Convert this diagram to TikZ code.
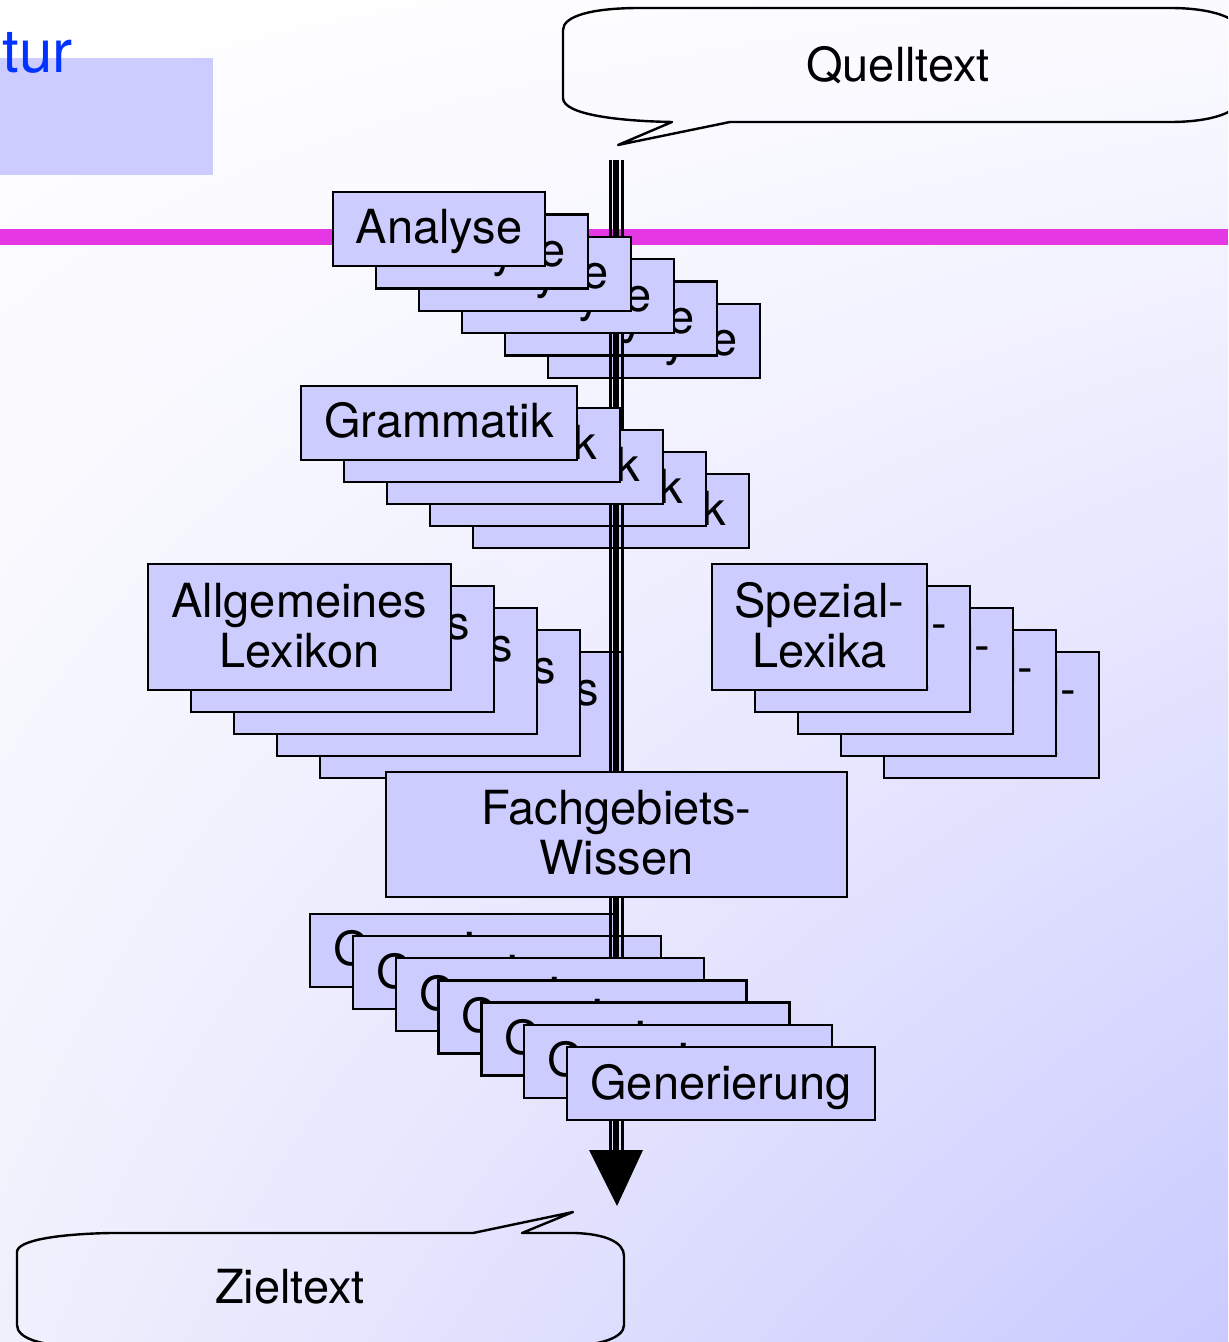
\documentclass[tikz,border=0pt]{standalone}
\usepackage{fontspec}
\setmainfont{TeX Gyre Heros}
\usetikzlibrary{shadings}
\definecolor{kartenblau}{RGB}{204,204,255}
\definecolor{trennlila}{RGB}{230,55,228}
\definecolor{titelblau}{RGB}{0,51,255}
\definecolor{grundOR}{RGB}{251,251,255}
\definecolor{grundUL}{RGB}{240,240,253}
\definecolor{grundUR}{RGB}{202,202,255}
\begin{document}
\begin{tikzpicture}[x=0.5pt,y=-0.5pt,
	karte/.style={draw=black,line width=1.2pt,fill=kartenblau,inner sep=0pt,align=center,text depth=0pt,font=\fontsize{23.5}{25}\selectfont},
	zweizeilig/.style={karte,text height=40pt},
	blase/.style={draw=black,line width=1.2pt,line join=round},
	anakarte/.style={karte,text height=15pt,minimum width=106pt,minimum height=37pt},
	gramkarte/.style={karte,text height=14pt,minimum width=138pt,minimum height=37pt},
	lexkarte/.style={zweizeilig,minimum width=151.5pt,minimum height=63pt},
	spezkarte/.style={zweizeilig,minimum width=107.5pt,minimum height=63pt},
	genkarte/.style={karte,text height=15.5pt,minimum width=154pt,minimum height=36.5pt}]
	\useasboundingbox (0,0) rectangle (1228,1342);
	\clip (0,0) rectangle (1228,1342);
	\shade[upper left=white,upper right=grundOR,lower left=grundUL,lower right=grundUR] (0,0) rectangle (1228,1342);
	% Titelrest oben links
	\fill [kartenblau] (0,58) rectangle (213,175);
	\node [anchor=base east,inner sep=0pt,text=titelblau,font=\fontsize{30}{30}\selectfont] (titel) at (73,73) {tur};
	\fill [trennlila] (0,229) rectangle (1228,245);
	% Sprechblasen
	\draw [blase] (563,30) -- (563,98) .. controls (563,114) and (615,121) .. (672,122) -- (618,145) -- (730,122) -- (1170,122) .. controls (1212,122) and (1240,112) .. (1240,98) -- (1240,32) .. controls (1240,18) and (1212,8) .. (1170,8) -- (640,8) .. controls (592,8) and (563,16) .. (563,30) -- cycle;
	\node (quelle) at (898,65) {\fontsize{23.5}{25}\selectfont Quelltext};
	\draw [blase] (17,1252) .. controls (17,1240) and (60,1234) .. (110,1233) -- (473,1233) -- (573,1212) -- (522,1233) -- (575,1233) .. controls (605,1234) and (624,1242) .. (624,1256) -- (624,1325) .. controls (624,1338) and (600,1345) .. (570,1346) -- (70,1346) .. controls (40,1345) and (17,1338) .. (17,1325) -- cycle;
	\node (ziel) at (290,1287) {\fontsize{23.5}{25}\selectfont Zieltext};
	% hintere Karten unter dem Strang
	\foreach \i in {5,4}
		\node [anakarte] (ana\i) at (439+43*\i,229+22.4*\i) {Analyse};
	\foreach \i in {4,3}
		\node [gramkarte] (gram\i) at (439+43*\i,423+22*\i) {Grammatik};
	\node [lexkarte] (lex4) at (299.5+43*4,627+22*4) {Allgemeines\\Lexikon};
	\foreach \i in {6,5}
		\node [genkarte] (gen\i) at (721-42.8*\i,1083.5-22.2*\i) {Generierung};
	% Strang mit Pfeilspitze
	\coordinate (oben) at (616,160);
	\coordinate (unten) at (616,1150);
	\coordinate (spitze) at (617,1206);
	\draw [line width=1.5pt] ([xshift=-2.9pt]oben) -- ([xshift=-2.9pt]unten);
	\draw [line width=2.75pt] (oben) -- (unten);
	\draw [line width=1.25pt] ([xshift=3.25pt]oben) -- ([xshift=3.25pt]unten);
	\fill ([xshift=-13.5pt]unten) -- ([xshift=13.5pt]unten) -- (spitze) -- cycle;
	% vordere Karten
	\foreach \i in {3,2,1,0}
		\node [anakarte] (ana\i) at (439+43*\i,229+22.4*\i) {Analyse};
	\foreach \i in {2,1,0}
		\node [gramkarte] (gram\i) at (439+43*\i,423+22*\i) {Grammatik};
	\foreach \i in {3,2,1,0}
		\node [lexkarte] (lex\i) at (299.5+43*\i,627+22*\i) {Allgemeines\\Lexikon};
	\foreach \i in {4,3,2,1,0}
		\node [spezkarte] (spez\i) at (819.5+43*\i,627+22*\i) {Spezial-\\Lexika};
	\node [zweizeilig,minimum width=230.5pt,minimum height=62.5pt] (wissen) at (616.5,834.5) {Fachgebiets-\\Wissen};
	\foreach \i in {4,3,2,1,0}
		\node [genkarte] (gen\i) at (721-42.8*\i,1083.5-22.2*\i) {Generierung};
\end{tikzpicture}
\end{document}
